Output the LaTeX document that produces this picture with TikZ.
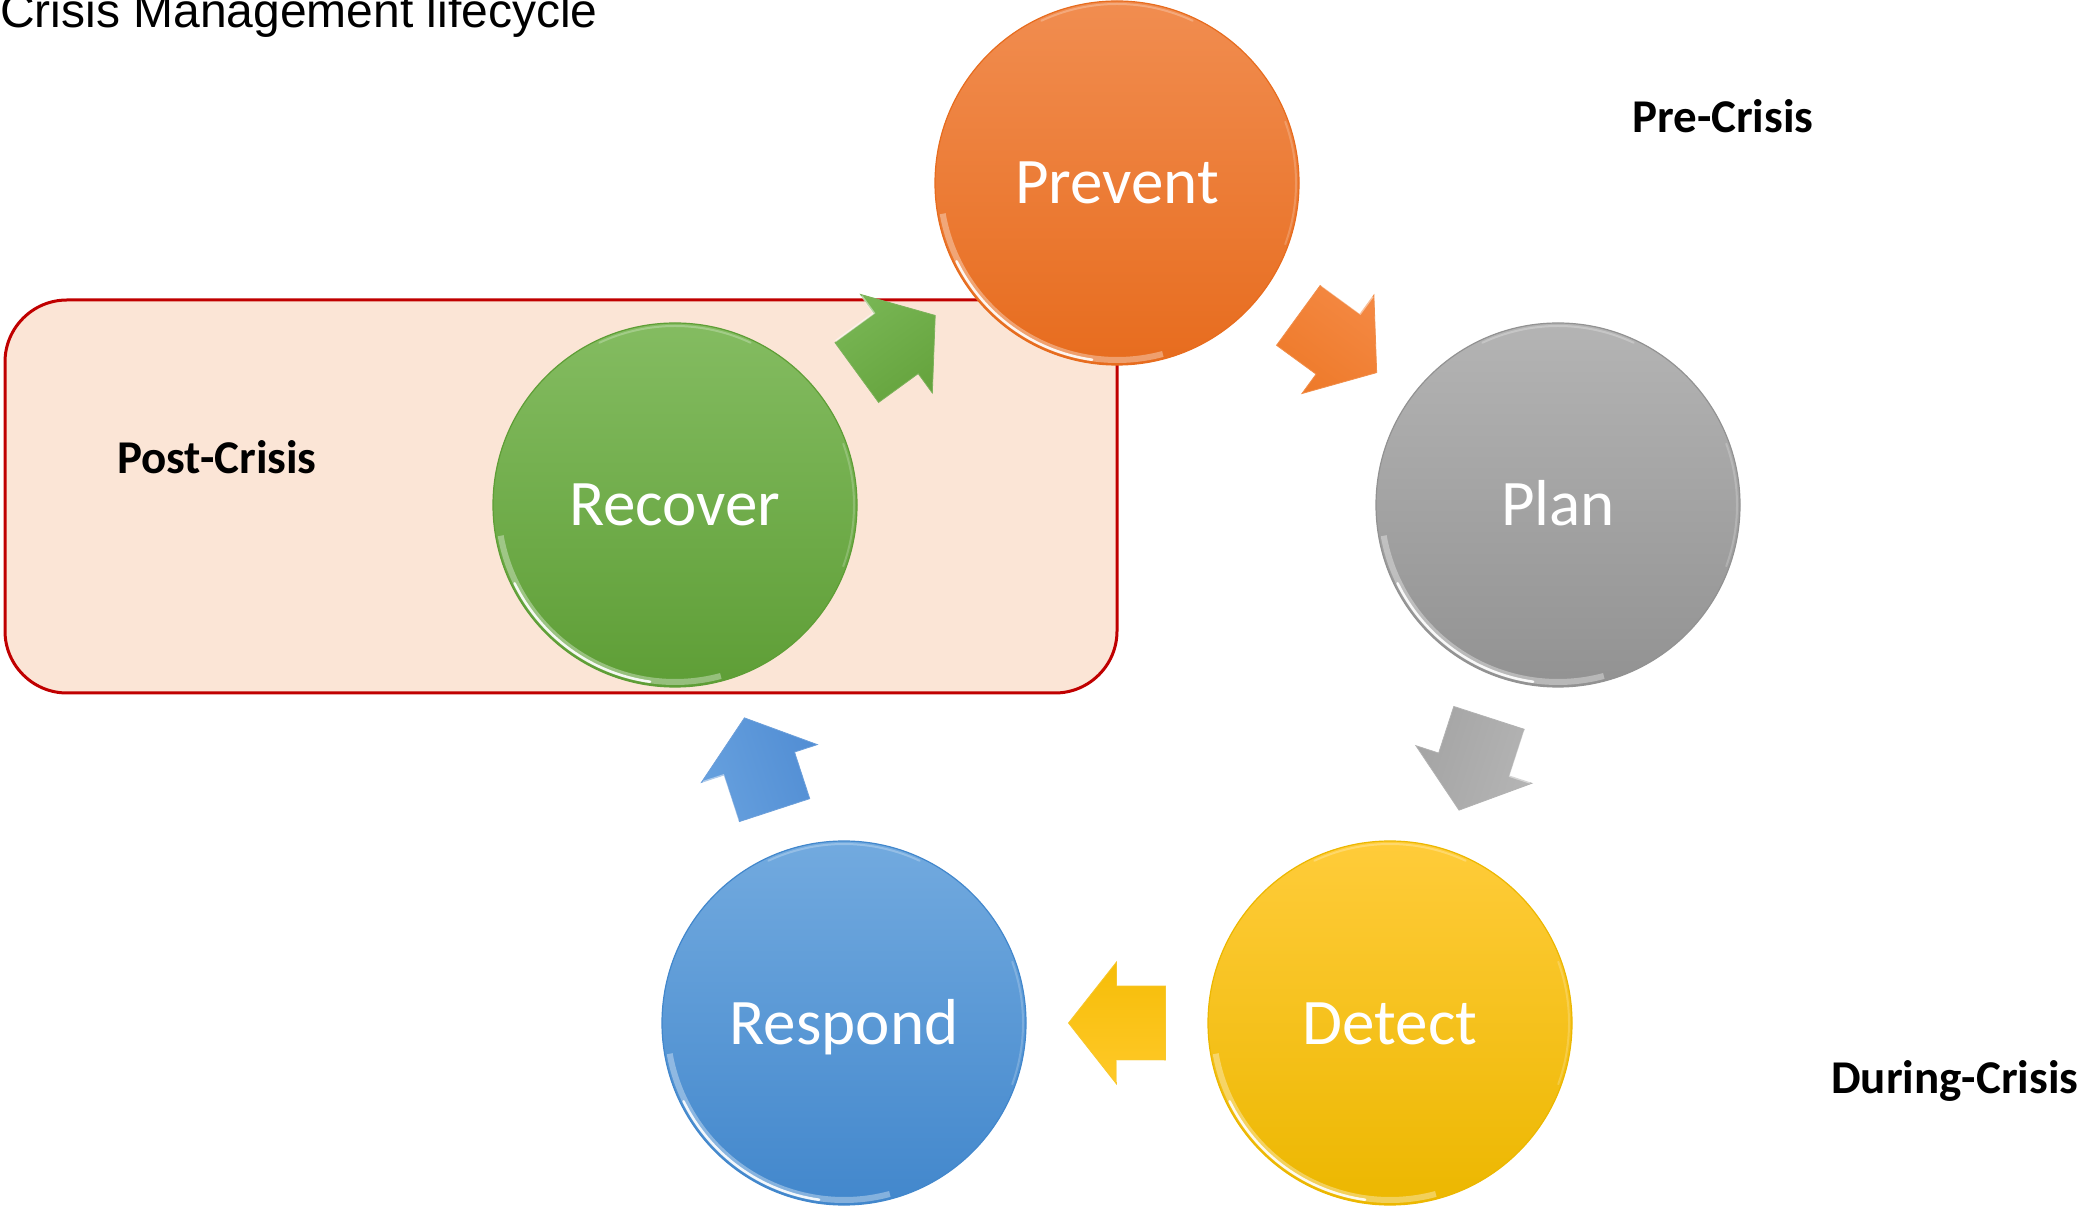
\documentclass[tikz,border=0pt]{standalone}
\usepackage{fontspec}
\newfontfamily\labelfont{Carlito}
\newfontfamily\titlefont{Liberation Sans}
\usetikzlibrary{calc}

% stage colours (top / bottom of the gradient)
\definecolor{prevTop}{RGB}{241,141,80}
\definecolor{prevBot}{RGB}{231,108,30}
\definecolor{planTop}{RGB}{180,180,180}
\definecolor{planBot}{RGB}{146,146,146}
\definecolor{detTop}{RGB}{255,204,58}
\definecolor{detBot}{RGB}{236,183,0}
\definecolor{respTop}{RGB}{114,170,223}
\definecolor{respBot}{RGB}{66,135,204}
\definecolor{recTop}{RGB}{132,188,97}
\definecolor{recBot}{RGB}{94,158,54}
\definecolor{boxFill}{RGB}{251,229,214}
\definecolor{boxLine}{RGB}{192,0,0}
% arrow colours
\definecolor{arrOrTop}{RGB}{244,136,66}
\definecolor{arrOrBot}{RGB}{238,122,42}
\definecolor{arrGrTop}{RGB}{180,180,180}
\definecolor{arrGrBot}{RGB}{164,164,164}
\definecolor{arrYeTop}{RGB}{255,201,40}
\definecolor{arrYeBot}{RGB}{246,189,8}
\definecolor{arrBlTop}{RGB}{102,160,222}
\definecolor{arrBlBot}{RGB}{82,142,212}
\definecolor{arrGnTop}{RGB}{120,182,84}
\definecolor{arrGnBot}{RGB}{102,164,62}

\tikzset{
  stage/.style={circle, minimum size=364pt, inner sep=0pt, text=white,
    text height=42pt, text depth=0pt, line width=1.2pt,
    font=\labelfont\fontsize{65}{78}\selectfont},
  phase/.style={anchor=base west, inner sep=0pt,
    font=\labelfont\bfseries\fontsize{47}{56}\selectfont},
  % block arrow pointing along +x, centred on the origin
  % #1 top colour, #2 bottom colour, #3 shading angle
  pics/blockarrow/.style n args={3}{code={
    \shade[top color=#1, bottom color=#2, shading angle=#3,
           draw=#2!85!white, line width=0.8pt, line join=miter]
      (48.5,0) -- (0.5,61) -- (0.5,37) -- (-48.5,37)
      -- (-48.5,-37) -- (0.5,-37) -- (0.5,-61) -- cycle;
    \draw[white, opacity=0.45, line width=2pt]
      (0.5,59) -- (0.5,38) -- (-47,38);
  }},
}

% block arrow halfway between two stages, pointing from #1 to #2
\newcommand\stagearrow[4]{%
  \path let \p1 = ($(#2.center)-(#1.center)$),
            \n1 = {atan2(\y1,\x1)} in
    pic[rotate=\n1] at ($(#1.center)!0.5!(#2.center)$) {blockarrow={#3}{#4}{\n1}};%
}

\begin{document}
\begin{tikzpicture}[x=1pt,y=1pt]
\useasboundingbox (0,0) rectangle (2085,1208);

% title
\node[anchor=base west, inner sep=0pt,
      font=\titlefont\fontsize{48}{58}\selectfont] (title) at (0,1180)
  {Crisis Management lifecycle};

% post-crisis panel
\node[draw=boxLine, fill=boxFill, line width=3pt, rounded corners=62pt,
      minimum width=1112pt, minimum height=393pt, inner sep=0pt]
  (postbox) at (561,711.5) {};

% the five stages
\node[stage, top color=prevTop, bottom color=prevBot, draw=prevBot] (prevent) at (1117,1025) {Prevent};
\node[stage, top color=planTop, bottom color=planBot, draw=planBot] (plan)    at (1558,703)  {Plan};
\node[stage, top color=detTop,  bottom color=detBot,  draw=detBot]  (detect)  at (1390,185)  {Detect};
\node[stage, top color=respTop, bottom color=respBot, draw=respBot] (respond) at (844,185)   {Respond};
\node[stage, top color=recTop,  bottom color=recBot,  draw=recBot]  (recover) at (675,703)   {Recover};

% glossy rims
\foreach \n in {prevent,plan,detect,respond,recover} {
  \draw[white, opacity=0.35, line width=6pt]
    ([shift={(190:177pt)}]\n.center) arc[start angle=190, end angle=285, radius=177pt];
  \draw[white, opacity=0.9, line width=2.5pt, line cap=round]
    ([shift={(206:178.5pt)}]\n.center) arc[start angle=206, end angle=262, radius=178.5pt];
  \draw[white, opacity=0.25, line width=2pt, line cap=round]
    ([shift={(65:179pt)}]\n.center) arc[start angle=65, end angle=115, radius=179pt];
  \draw[white, opacity=0.2, line width=2pt, line cap=round]
    ([shift={(-20:179pt)}]\n.center) arc[start angle=-20, end angle=20, radius=179pt];
}

% block arrows between the stages
\stagearrow{prevent}{plan}{arrOrTop}{arrOrBot}
\stagearrow{plan}{detect}{arrGrTop}{arrGrBot}
\stagearrow{detect}{respond}{arrYeTop}{arrYeBot}
\stagearrow{respond}{recover}{arrBlTop}{arrBlBot}
\stagearrow{recover}{prevent}{arrGnTop}{arrGnBot}

% phase labels
\node[phase] (pre)    at (1632,1075) {Pre-Crisis};
\node[phase] (post)   at (117,734)   {Post-Crisis};
\node[phase] (during) at (1831,115)  {During-Crisis};
\end{tikzpicture}
\end{document}
